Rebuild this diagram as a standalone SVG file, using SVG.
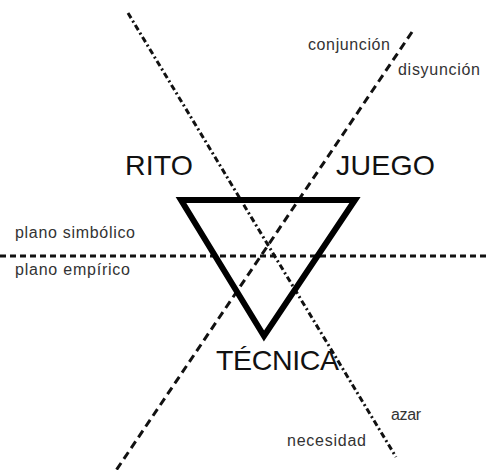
<svg xmlns="http://www.w3.org/2000/svg" width="486" height="470" viewBox="0 0 486 470">
<style>
.ln{fill:none;stroke:#111;stroke-width:3}
.dd{stroke-dasharray:6 3 2 3}
.ds{stroke-dasharray:8 5}
.dt{stroke-dasharray:6 4}
.big{font-family:"Liberation Sans",Arial,sans-serif;font-size:28.5px;fill:#111}
.sm{font-family:"Liberation Sans",Arial,sans-serif;font-size:16px;fill:#333}
</style>
<rect width="486" height="470" fill="#fff"/>
<g id="connectors">
<line class="ln dd" x1="128" y1="13" x2="396" y2="457"/>
<line class="ln ds" x1="412" y1="32" x2="115" y2="472"/>
<line class="ln dt" x1="0" y1="256" x2="486" y2="256"/>
</g>
<g id="triangle">
<polygon points="181,200 355,200 264,336" fill="none" stroke="#000" stroke-width="6" stroke-linejoin="miter"/>
</g>
<g id="rito"><text class="big" x="125" y="175" textLength="68">RITO</text></g>
<g id="juego"><text class="big" x="336" y="175" textLength="99">JUEGO</text></g>
<g id="tecnica"><text class="big" x="216" y="370" textLength="123">TÉCNICA</text></g>
<g id="plano-simbolico"><text class="sm" x="15" y="238" textLength="120">plano simbólico</text></g>
<g id="plano-empirico"><text class="sm" x="15" y="275" textLength="115">plano empírico</text></g>
<g id="conjuncion"><text class="sm" x="308" y="50" textLength="82">conjunción</text></g>
<g id="disyuncion"><text class="sm" x="398" y="75" textLength="82">disyunción</text></g>
<g id="azar"><text class="sm" x="391" y="420" textLength="30">azar</text></g>
<g id="necesidad"><text class="sm" x="287" y="446" textLength="79">necesidad</text></g>
</svg>
